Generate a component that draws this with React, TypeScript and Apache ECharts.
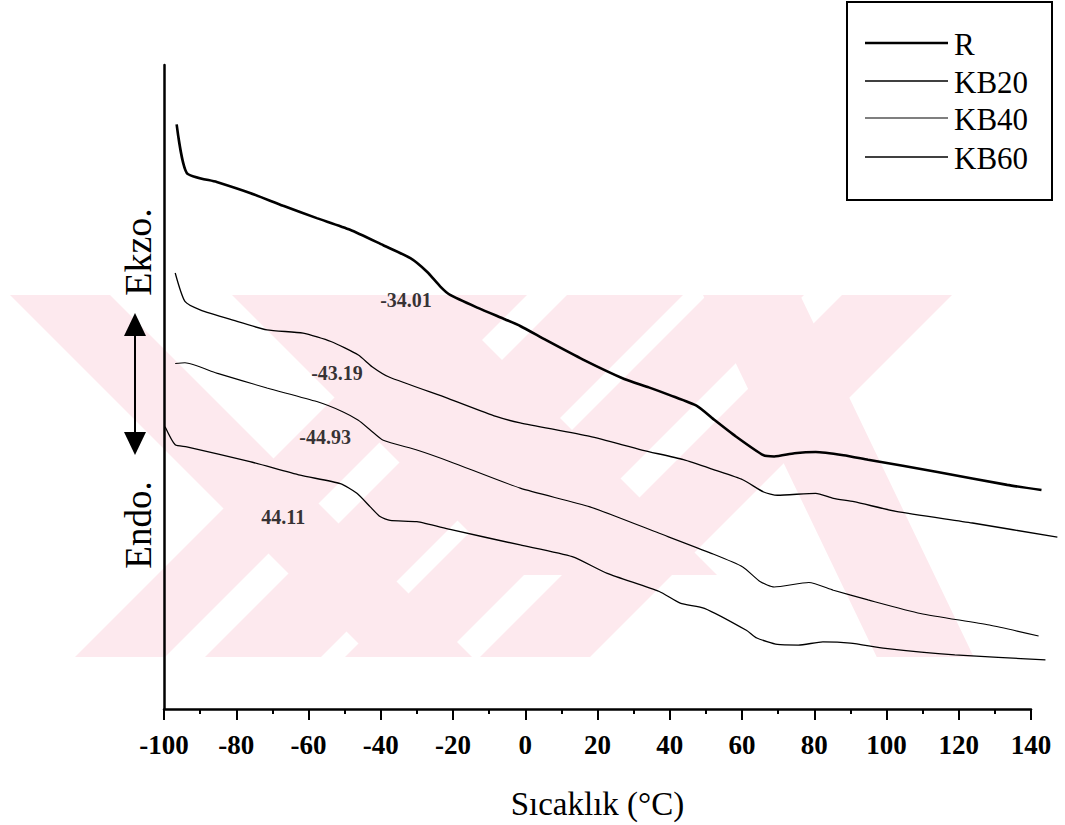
import React, { useEffect, useRef } from 'react';
import * as echarts from 'echarts';

// DSC thermograms: temperature (°C) vs. heat-flow signal (arbitrary units)
const seriesNames = ['R', 'KB20', 'KB40', 'KB60'];

const curveR: [number, number][] = [
  [-96.5, 90.8], [-93.7, 83.3], [-85.4, 81.9], [-76.2, 80.2], [-67.0, 78.2], [-57.7, 76.3],
  [-48.5, 74.5], [-39.3, 72.1], [-31.8, 70.1], [-27.2, 68.0], [-23.5, 65.7], [-20.8, 64.4],
  [-13.1, 62.4], [-5.5, 60.6], [-1.4, 59.6], [5.8, 57.4], [16.0, 54.4], [27.4, 51.4],
  [34.2, 50.1], [40.0, 48.9], [47.6, 47.2], [52.5, 45.0], [58.3, 42.5], [65.9, 39.6],
  [68.9, 39.4], [74.5, 39.9], [80.4, 40.1], [88.1, 39.6], [94.9, 38.9], [114.1, 37.0],
  [133.4, 35.0], [142.9, 34.2],
];

const curveKB20: [number, number][] = [
  [-96.9, 67.8], [-94.2, 63.4], [-90.0, 62.1], [-80.9, 60.5], [-71.5, 59.0], [-61.5, 58.5],
  [-53.8, 57.2], [-46.2, 55.1], [-42.4, 53.3], [-37.7, 51.7], [-21.4, 48.4], [-8.1, 45.6],
  [-1.4, 44.6], [17.9, 42.5], [32.3, 40.4], [43.8, 38.9], [52.5, 37.3], [60.2, 35.8],
  [66.0, 33.9], [69.8, 33.4], [80.4, 33.7], [85.3, 32.9], [91.0, 32.4], [102.6, 30.9],
  [123.8, 29.1], [147.3, 26.9],
];

const curveKB40: [number, number][] = [
  [-96.9, 53.8], [-94.2, 53.9], [-85.4, 52.3], [-71.5, 50.0], [-57.7, 47.9], [-50.4, 46.3],
  [-46.2, 45.0], [-42.9, 43.5], [-39.3, 41.9], [-30.0, 40.4], [-20.8, 38.6], [-1.4, 34.5],
  [17.9, 31.6], [37.1, 27.5], [51.5, 24.4], [60.2, 22.3], [65.1, 20.0], [68.9, 19.2],
  [78.5, 19.9], [85.3, 18.7], [94.9, 17.2], [109.4, 15.1], [128.5, 13.3], [142.1, 11.6],
];

const curveKB60: [number, number][] = [
  [-99.7, 44.0], [-96.9, 41.2], [-93.7, 40.9], [-76.2, 38.6], [-62.3, 36.5], [-51.2, 35.2],
  [-46.6, 33.7], [-42.9, 31.6], [-40.2, 30.1], [-37.4, 29.5], [-30.0, 29.3], [-20.8, 28.1],
  [-1.4, 25.7], [13.0, 23.9], [22.7, 21.3], [37.1, 18.5], [42.9, 16.7], [49.6, 15.9],
  [61.2, 12.5], [64.1, 11.3], [69.8, 10.3], [75.6, 10.2], [82.4, 10.7], [90.0, 10.5],
  [99.7, 9.7], [118.9, 8.7], [144.0, 7.9],
];

// glass-transition annotations placed beside each step
const tgLabels = ['-34.01', '-43.19', '-44.93', '44.11'];
const tgLabelPos: [number, number][] = [[-33.0, 63.6], [-52.1, 52.3], [-55.4, 42.4], [-67.0, 30.0]];

// temperature axis: ticks every 20 from -100 to 140; traces run a little past the last tick
const xTicks = { min: -100, max: 140, step: 20 };
const traceMaxT = 148;

const FONT = '"Liberation Serif", "Times New Roman", serif';

// plot box in pixels
const PLOT = { left: 164, right: 34, top: 65, bottom: 114, width: 1065 };

// faint diagonal background stamp
const BAND_TOP = 295;
const BAND_BOTTOM = 657;
const PINK = '#fde9ee';
const backStripes = [
  { a: 10, w: 100, k: 1, end: BAND_BOTTOM },
  { a: 232, w: 205, k: 1, end: 575 },
  { a: 703, w: 97, k: 0.48, end: BAND_BOTTOM },
];
const fwdStripes = [
  { b: 75, w: 90 },
  { b: 205, w: 116 },
  { b: 345, w: 97 },
  { b: 480, w: 110 },
];

function stampShapes() {
  const h = BAND_BOTTOM - BAND_TOP;
  const shapes: any[] = [];
  backStripes.forEach((s) => {
    const d = (s.end - BAND_TOP) * s.k;
    shapes.push({
      type: 'polygon',
      z: -1,
      silent: true,
      shape: {
        points: [
          [s.a, BAND_TOP], [s.a + s.w, BAND_TOP],
          [s.a + s.w + d, s.end], [s.a + d, s.end],
        ],
      },
      style: { fill: PINK },
    });
  });
  fwdStripes.forEach((s) => {
    shapes.push({
      type: 'polygon',
      z: -1,
      silent: true,
      shape: {
        points: [
          [s.b, BAND_BOTTOM], [s.b + s.w, BAND_BOTTOM],
          [s.b + s.w + h, BAND_TOP], [s.b + h, BAND_TOP],
        ],
      },
      style: { fill: PINK },
    });
  });
  return shapes;
}

const lineWidths = [2.6, 1.3, 1.1, 1.3];

function legendShapes() {
  const box = { x: 847, y: 2, w: 205, h: 198 };
  const rows = [43, 81, 118, 157];
  const out: any[] = [
    {
      type: 'rect',
      shape: { x: box.x, y: box.y, width: box.w, height: box.h },
      style: { fill: '#fff', stroke: '#000', lineWidth: 2 },
      z: 5,
    },
  ];
  seriesNames.forEach((name, i) => {
    out.push({
      type: 'line',
      shape: { x1: 865, y1: rows[i], x2: 948, y2: rows[i] },
      style: { stroke: '#000', lineWidth: lineWidths[i] },
      z: 6,
    });
    out.push({
      type: 'text',
      x: 954,
      y: rows[i] + 1,
      style: { text: name, font: `31px ${FONT}`, fill: '#000', align: 'left', verticalAlign: 'middle' },
      z: 6,
    });
  });
  return out;
}

export default function App() {
  const ref = useRef<HTMLDivElement>(null);

  useEffect(() => {
    document.body.style.margin = '0';
    if (!ref.current) return;
    const chart = echarts.init(ref.current, undefined, { renderer: 'svg' });

    const pxPerDeg = (PLOT.width - PLOT.left - PLOT.right) / (xTicks.max - xTicks.min);
    const traceRight = PLOT.width - PLOT.left - pxPerDeg * (traceMaxT - xTicks.min);

    const curves = [curveR, curveKB20, curveKB40, curveKB60];

    const lineSeries = curves.map((data, i) => ({
      name: seriesNames[i],
      type: 'line',
      xAxisIndex: 1,
      yAxisIndex: 1,
      data,
      symbol: 'none',
      smooth: 0.2,
      z: 3,
      lineStyle: { color: '#000', width: lineWidths[i] },
      itemStyle: { color: '#000' },
    }));

    const option: any = {
      animation: false,
      backgroundColor: '#fff',
      grid: [
        { left: PLOT.left, right: PLOT.right, top: PLOT.top, bottom: PLOT.bottom },
        { left: PLOT.left, right: traceRight, top: PLOT.top, bottom: PLOT.bottom },
      ],
      xAxis: [
        {
          gridIndex: 0,
          type: 'value',
          min: xTicks.min,
          max: xTicks.max,
          interval: xTicks.step,
          name: 'Sıcaklık (°C)',
          nameLocation: 'middle',
          nameGap: 78,
          nameTextStyle: { fontFamily: FONT, fontSize: 33, color: '#000' },
          axisLine: { show: true, onZero: false, lineStyle: { color: '#000', width: 2.5 } },
          axisTick: { show: true, inside: false, length: 11, lineStyle: { color: '#000', width: 2 } },
          minorTick: { show: true, splitNumber: 2, length: 5, lineStyle: { color: '#000', width: 2 } },
          splitLine: { show: false },
          axisLabel: { fontFamily: FONT, fontSize: 27, fontWeight: 'bold', color: '#000', margin: 22 },
        },
        {
          gridIndex: 1,
          type: 'value',
          min: xTicks.min,
          max: traceMaxT,
          show: false,
        },
      ],
      yAxis: [
        {
          gridIndex: 0,
          type: 'value',
          min: 0,
          max: 100,
          axisLine: { show: true, onZero: false, lineStyle: { color: '#000', width: 2.5 } },
          axisTick: { show: false },
          axisLabel: { show: false },
          splitLine: { show: false },
        },
        {
          gridIndex: 1,
          type: 'value',
          min: 0,
          max: 100,
          show: false,
        },
      ],
      graphic: [
        ...stampShapes(),
        ...legendShapes(),
        {
          type: 'text',
          x: 138,
          y: 252,
          rotation: Math.PI / 2,
          style: { text: 'Ekzo.', font: `38px ${FONT}`, fill: '#000', align: 'center', verticalAlign: 'middle' },
        },
        {
          type: 'text',
          x: 138,
          y: 525,
          rotation: Math.PI / 2,
          style: { text: 'Endo.', font: `37px ${FONT}`, fill: '#000', align: 'center', verticalAlign: 'middle' },
        },
        {
          type: 'line',
          shape: { x1: 135, y1: 330, x2: 135, y2: 438 },
          style: { stroke: '#000', lineWidth: 2 },
        },
        {
          type: 'polygon',
          shape: { points: [[135, 313], [146, 336], [124, 336]] },
          style: { fill: '#000' },
        },
        {
          type: 'polygon',
          shape: { points: [[135, 455], [146, 432], [124, 432]] },
          style: { fill: '#000' },
        },
      ],
      series: [
        ...lineSeries,
        {
          name: 'Tg',
          type: 'scatter',
          xAxisIndex: 1,
          yAxisIndex: 1,
          data: tgLabelPos.map((p, i) => [p[0], p[1], tgLabels[i]]),
          symbolSize: 1,
          itemStyle: { color: 'rgba(0,0,0,0)' },
          z: 4,
          label: {
            show: true,
            position: 'inside',
            formatter: (p: any) => p.data[2],
            fontFamily: FONT,
            fontSize: 20,
            fontWeight: 'bold',
            color: '#000',
          },
        },
      ],
    };

    chart.setOption(option);
    return () => chart.dispose();
  }, []);

  return <div ref={ref} style={{ width: 1065, height: 825 }} />;
}
